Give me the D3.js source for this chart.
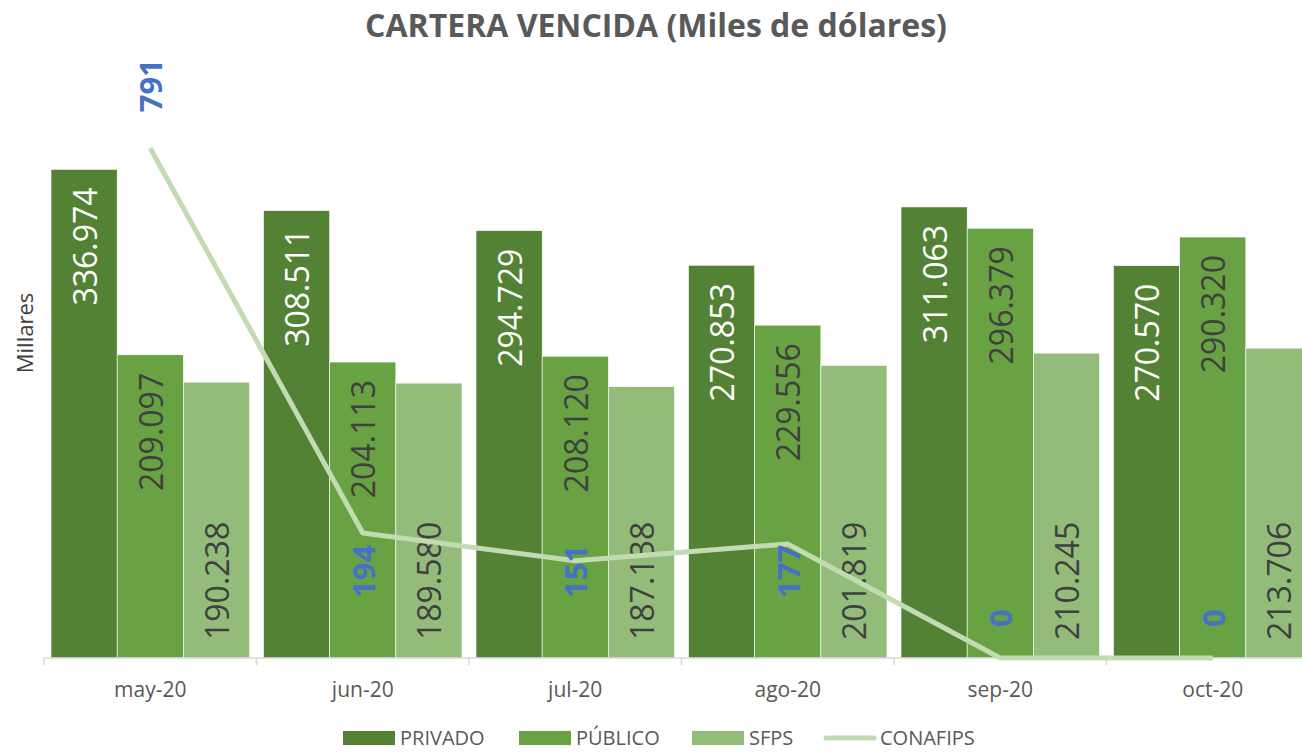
<!DOCTYPE html>
<html>
<head>
<meta charset="utf-8">
<script src="https://cdn.jsdelivr.net/npm/d3@7"></script>
<style>
    html, body { margin: 0; padding: 0; background: white; overflow: hidden; }
    svg { display: block; font-family: 'Open Sans', sans-serif; }
</style>
</head>
<body>
<div id="chart"></div>
<script>
const [WIDTH, HEIGHT] = [1302, 753];

// data (values in dollars; labels shown in thousands)
const months = ['may-20', 'jun-20', 'jul-20', 'ago-20', 'sep-20', 'oct-20'];
const privado = [336974, 308511, 294729, 270853, 311063, 270570];
const publico = [209097, 204113, 208120, 229556, 296379, 290320];
const sfps = [190238, 189580, 187138, 201819, 210245, 213706];
const conafips = [791, 194, 151, 177, 0, 0];

const SERIES = [
    { name: 'PRIVADO', values: privado, fill: '#548235', label: 'white', pos: 'end' },
    { name: 'PÚBLICO', values: publico, fill: '#69a242', label: '#404040', pos: 'end' },
    { name: 'SFPS', values: sfps, fill: '#93bc7a', label: '#404040', pos: 'base' },
]

const LINE_STYLE = { stroke: '#c2dbb3', strokeWidth: 5, label: '#4472c4' }

const locale = d3.formatLocale({ decimal: ',', thousands: '.', grouping: [3], currency: ['$', ''] });
const fmt = locale.format(',');

const plot = { left: 44, right: 44 + 6 * 212.5, top: 78, bottom: 658 };

const svg = d3.select('#chart').append('svg')
    .attr('width', WIDTH)
    .attr('height', HEIGHT)
    .attr('viewBox', `0 0 ${WIDTH} ${HEIGHT}`)

const x = d3.scaleBand()
    .domain(months)
    .range([plot.left, plot.right])
    .paddingInner(0.066)
    .paddingOuter(0.033)

const xSub = d3.scaleBand()
    .domain(SERIES.map((s) => s.name))
    .range([0, x.bandwidth()])

const y = d3.scaleLinear().domain([0, 400000]).range([plot.bottom, plot.top]);
const y2 = d3.scaleLinear().domain([0, 900]).range([plot.bottom, plot.top]);

// title
svg.append('text')
    .attr('x', 656)
    .attr('y', 37)
    .attr('text-anchor', 'middle')
    .attr('fill', '#595959')
    .attr('font-weight', 'bold')
    .attr('font-size', 32)
    .text('CARTERA VENCIDA (Miles de dólares)')

// axis title
svg.append('text')
    .attr('transform', 'translate(33, 333) rotate(-90)')
    .attr('text-anchor', 'middle')
    .attr('fill', '#404040')
    .attr('font-size', 22)
    .text('Millares')

// bars
const groups = svg.selectAll('.group')
    .data(months)
    .enter()
    .append('g')
    .attr('class', 'group')
    .attr('transform', (d) => `translate(${x(d)}, 0)`)

SERIES.forEach((s) => {
    groups.append('rect')
        .attr('x', xSub(s.name))
        .attr('width', xSub.bandwidth())
        .attr('y', (d, i) => y(s.values[i]))
        .attr('height', (d, i) => y(0) - y(s.values[i]))
        .attr('fill', s.fill)
        .attr('stroke', 'white')
        .attr('stroke-width', 0.6)
})

// x axis
const xAxis = svg.append('g')
    .attr('transform', `translate(0, ${plot.bottom})`)
xAxis.append('line')
    .attr('x1', plot.left).attr('x2', plot.right)
    .attr('stroke', '#d9d9d9').attr('stroke-width', 1.5)
xAxis.selectAll('.tick')
    .data(months.concat(['end']))
    .enter()
    .append('line')
    .attr('x1', (d, i) => plot.left + i * x.step())
    .attr('x2', (d, i) => plot.left + i * x.step())
    .attr('y1', 0).attr('y2', 7)
    .attr('stroke', '#d9d9d9').attr('stroke-width', 1.5)
xAxis.selectAll('.tlabel')
    .data(months)
    .enter()
    .append('text')
    .attr('x', (d) => x(d) + x.bandwidth() / 2)
    .attr('y', 39)
    .attr('text-anchor', 'middle')
    .attr('fill', '#595959')
    .attr('font-size', 21)
    .text((d) => d)

// CONAFIPS line
const line = d3.line()
    .x((d, i) => x(months[i]) + x.bandwidth() / 2)
    .y((d) => y2(d))

svg.append('path')
    .datum(conafips)
    .attr('d', line)
    .attr('fill', 'none')
    .attr('stroke', LINE_STYLE.stroke)
    .attr('stroke-width', LINE_STYLE.strokeWidth)
    .attr('stroke-linejoin', 'round')

// bar labels
SERIES.forEach((s) => {
    groups.append('text')
        .attr('transform', (d, i) => {
            const cx = xSub(s.name) + xSub.bandwidth() / 2;
            const ty = s.pos === 'end' ? y(s.values[i]) + 18 : y(0) - 18;
            return `translate(${cx}, ${ty}) rotate(-90)`;
        })
        .attr('text-anchor', s.pos === 'end' ? 'end' : 'start')
        .attr('dominant-baseline', 'central')
        .attr('fill', s.label)
        .attr('font-size', 32)
        .text((d, i) => fmt(s.values[i]))
})

// CONAFIPS labels
svg.selectAll('.clabel')
    .data(conafips)
    .enter()
    .append('text')
    .attr('transform', (d, i) => {
        const cx = x(months[i]) + x.bandwidth() / 2;
        const ty = i === 0 ? y2(d) - 36 : plot.bottom - (d > 0 ? 60 : 31);
        return `translate(${cx}, ${ty}) rotate(-90)`;
    })
    .attr('text-anchor', 'start')
    .attr('dominant-baseline', 'central')
    .attr('fill', LINE_STYLE.label)
    .attr('font-weight', 'bold')
    .attr('font-size', 31)
    .text((d) => d)

// legend
const legendItems = [
    { name: 'PRIVADO', fill: SERIES[0].fill, x: 343 },
    { name: 'PÚBLICO', fill: SERIES[1].fill, x: 519 },
    { name: 'SFPS', fill: SERIES[2].fill, x: 692 },
    { name: 'CONAFIPS', line: LINE_STYLE.stroke, x: 823 },
]
const legend = svg.append('g').attr('transform', 'translate(0, 738)')
legendItems.forEach((d) => {
    if (d.line) {
        legend.append('line')
            .attr('x1', d.x + 3).attr('x2', d.x + 51)
            .attr('stroke', d.line).attr('stroke-width', 5)
            .attr('stroke-linecap', 'round')
    } else {
        legend.append('rect')
            .attr('x', d.x).attr('y', -7)
            .attr('width', 52).attr('height', 14)
            .attr('fill', d.fill)
    }
    legend.append('text')
        .attr('x', d.x + 57)
        .attr('y', 7)
        .attr('fill', '#595959')
        .attr('font-size', 20)
        .text(d.name)
})
</script>
</body>
</html>
